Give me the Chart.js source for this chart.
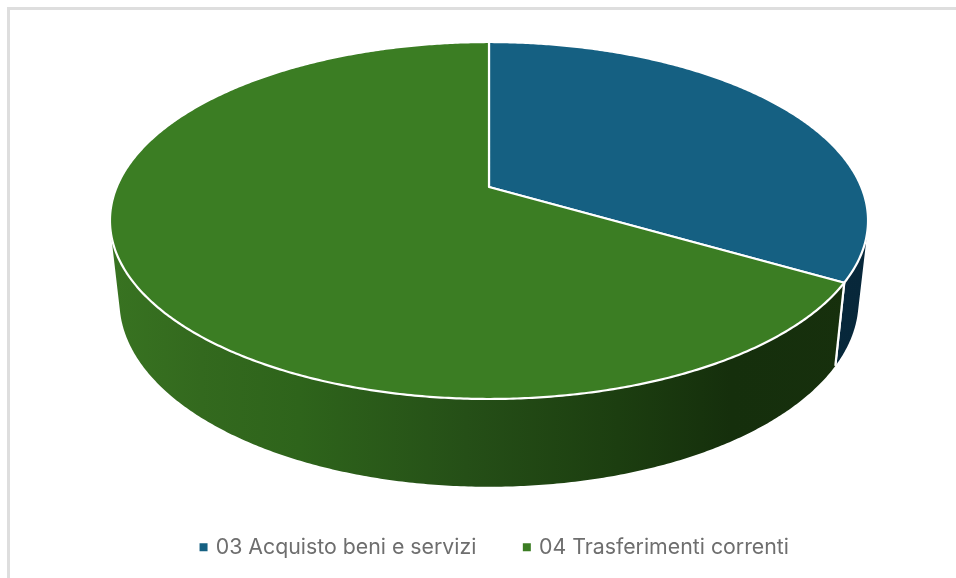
<!DOCTYPE html>
<html>
<head>
<meta charset="utf-8">
<style>
  html, body { margin: 0; padding: 0; background: #fff; overflow: hidden; }
  #frame { position: absolute; left: 7px; top: 7px; width: 960px; height: 580px; border: 3px solid #dedede; box-sizing: border-box; }
  #myChart { position: absolute; left: 0; top: 0; }
</style>
<script src="https://cdn.jsdelivr.net/npm/chart.js@4"></script>
</head>
<body>
<div id="frame"></div>
<canvas id="myChart" width="956" height="578"></canvas>
<script>
const categories = ['03 Acquisto beni e servizi', '04 Trasferimenti correnti'];
const spesa = [33.4, 66.6];
const topColors = ['#156082', '#3b7d23'];

// perspective of the disc, fitted on the picture
const cx = 489, cy = 187;
const persp = 0.1877;
const topA = 372.3, topB = 172.2;
const depth = 79, depthPersp = 0.1, shrink = 0.975;

function topPoint(angle) {
  const u = Math.cos(angle), v = Math.sin(angle), w = 1 - persp * v;
  return [cx + topA * u / w, cy + topB * v / w];
}
function bottomPoint(angle) {
  const u = Math.cos(angle), v = Math.sin(angle), w = 1 - persp * v;
  return [cx + shrink * topA * u / w, cy + topB * v / w + depth / (1 - depthPersp * v)];
}

function wallPaint(ctx, index) {
  const g = ctx.createLinearGradient(110, 0, 868, 0);
  if (index === 0) {
    g.addColorStop(0, '#0b3346');
    g.addColorStop(1, '#07273a');
  } else {
    g.addColorStop(0, '#387321');
    g.addColorStop(0.12, '#33691e');
    g.addColorStop(0.25, '#2e641b');
    g.addColorStop(0.47, '#254f17');
    g.addColorStop(0.67, '#1c3e10');
    g.addColorStop(0.82, '#152f0c');
    g.addColorStop(1, '#17300d');
  }
  return g;
}

class Arc3D extends Chart.ArcElement {
  static id = 'arc3d';
  draw(ctx) {
    const index = this.$context.dataIndex;
    const a0 = this.startAngle, a1 = this.endAngle;
    const steps = Math.max(2, Math.ceil((a1 - a0) * 120));
    ctx.save();

    // side wall, only the quads facing the viewer
    ctx.beginPath();
    for (let i = 0; i < steps; i++) {
      const s = a0 + (a1 - a0) * i / steps, e = a0 + (a1 - a0) * (i + 1) / steps;
      const p1 = topPoint(s), p2 = topPoint(e), p3 = bottomPoint(e), p4 = bottomPoint(s);
      const cross = (p2[0] - p1[0]) * (p4[1] - p1[1]) - (p2[1] - p1[1]) * (p4[0] - p1[0]);
      if (cross > 0) continue;
      ctx.moveTo(p1[0], p1[1]);
      ctx.lineTo(p2[0], p2[1]);
      ctx.lineTo(p3[0], p3[1]);
      ctx.lineTo(p4[0], p4[1]);
      ctx.closePath();
    }
    ctx.fillStyle = wallPaint(ctx, index);
    ctx.fill();

    ctx.strokeStyle = '#ffffff';
    ctx.lineWidth = 2.2;
    [a0, a1].forEach(function(a) {
      if (Math.sin(a) > 0) {
        const t = topPoint(a), b = bottomPoint(a);
        ctx.beginPath();
        ctx.moveTo(t[0], t[1]);
        ctx.lineTo(b[0], b[1]);
        ctx.stroke();
      }
    });

    // top face
    ctx.beginPath();
    ctx.moveTo(cx, cy);
    for (let i = 0; i <= steps; i++) {
      const p = topPoint(a0 + (a1 - a0) * i / steps);
      ctx.lineTo(p[0], p[1]);
    }
    ctx.closePath();
    ctx.fillStyle = this.options.backgroundColor;
    ctx.fill();
    ctx.lineJoin = 'round';
    ctx.stroke();
    ctx.restore();
  }
}

class Pie3D extends Chart.PieController {
  static id = 'pie3d';
  static defaults = { dataElementType: 'arc3d' };
}

Chart.register(Arc3D, Pie3D);

new Chart(document.getElementById('myChart'), {
  type: 'pie3d',
  data: {
    labels: categories,
    datasets: [{
      data: spesa,
      backgroundColor: topColors,
      borderWidth: 0,
      clip: false
    }]
  },
  options: {
    responsive: false,
    animation: false,
    devicePixelRatio: 1,
    layout: { padding: { left: 35, bottom: 10 } },
    plugins: {
      tooltip: { enabled: false },
      legend: {
        position: 'bottom',
        labels: {
          usePointStyle: true,
          pointStyle: 'rect',
          boxWidth: 3,
          boxHeight: 8,
          padding: 49,
          color: '#6e6e6e',
          font: { family: 'Inter', size: 21.3 }
        }
      }
    }
  }
});
</script>
</body>
</html>
